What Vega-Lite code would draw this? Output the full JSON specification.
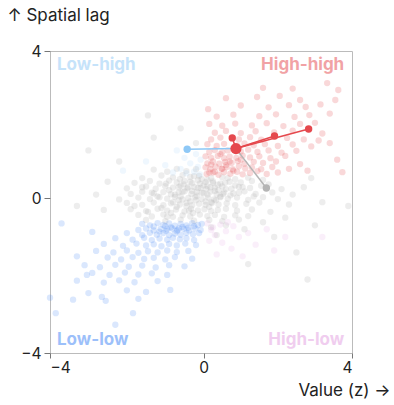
{
  "$schema": "https://vega.github.io/schema/vega-lite/v6.json",
  "width": 302,
  "height": 302,
  "autosize": {"type": "none"},
  "padding": {"left": 50, "top": 51, "right": 42, "bottom": 52},
  "config": {
    "font": "Inter",
    "view": {"stroke": "#bbbbbb", "strokeWidth": 1},
    "axis": {"labelFont": "Inter", "titleFont": "Inter", "labelFontSize": 15.5, "titleFontSize": 17, "titleFontWeight": "normal", "labelColor": "#222222", "titleColor": "#222222", "tickColor": "#777777", "domain": false, "grid": false}
  },
  "datasets": {
    "pts": [
      {"x":-1.3,"y":0.78,"c":"ns"},{"x":-0.95,"y":0.72,"c":"ns"},{"x":-0.7,"y":0.8,"c":"ns"},{"x":-0.45,"y":0.74,"c":"ns"},{"x":-0.2,"y":0.79,"c":"ns"},
      {"x":-1.6,"y":0.55,"c":"ns"},{"x":-1.1,"y":0.62,"c":"ns"},{"x":-0.8,"y":0.57,"c":"ns"},{"x":-0.55,"y":0.63,"c":"ns"},{"x":-0.35,"y":0.58,"c":"ns"},{"x":-0.12,"y":0.61,"c":"ns"},{"x":0.2,"y":0.55,"c":"ns"},{"x":0.5,"y":0.57,"c":"ns"},{"x":0.85,"y":0.52,"c":"ns"},{"x":1.2,"y":0.56,"c":"ns"},{"x":1.6,"y":0.5,"c":"ns"},
      {"x":-1.8,"y":0.42,"c":"ns"},{"x":-1.4,"y":0.47,"c":"ns"},{"x":-1.15,"y":0.4,"c":"ns"},{"x":-0.9,"y":0.48,"c":"ns"},{"x":-0.7,"y":0.43,"c":"ns"},{"x":-0.5,"y":0.47,"c":"ns"},{"x":-0.3,"y":0.41,"c":"ns"},{"x":-0.15,"y":0.49,"c":"ns"},{"x":0.05,"y":0.44,"c":"ns"},{"x":0.25,"y":0.46,"c":"ns"},{"x":0.45,"y":0.4,"c":"ns"},{"x":0.7,"y":0.45,"c":"ns"},{"x":1.0,"y":0.43,"c":"ns"},{"x":1.3,"y":0.47,"c":"ns"},{"x":1.75,"y":0.38,"c":"ns"},
      {"x":-2.0,"y":0.27,"c":"ns"},{"x":-1.5,"y":0.32,"c":"ns"},{"x":-1.25,"y":0.26,"c":"ns"},{"x":-1.0,"y":0.33,"c":"ns"},{"x":-0.8,"y":0.29,"c":"ns"},{"x":-0.6,"y":0.34,"c":"ns"},{"x":-0.42,"y":0.27,"c":"ns"},{"x":-0.25,"y":0.31,"c":"ns"},{"x":-0.08,"y":0.28,"c":"ns"},{"x":0.1,"y":0.33,"c":"ns"},{"x":0.3,"y":0.29,"c":"ns"},{"x":0.5,"y":0.32,"c":"ns"},{"x":0.75,"y":0.26,"c":"ns"},{"x":0.95,"y":0.31,"c":"ns"},{"x":1.25,"y":0.28,"c":"ns"},{"x":1.55,"y":0.34,"c":"ns"},{"x":2.1,"y":0.25,"c":"ns"},
      {"x":-1.9,"y":0.12,"c":"ns"},{"x":-1.6,"y":0.18,"c":"ns"},{"x":-1.3,"y":0.13,"c":"ns"},{"x":-1.05,"y":0.17,"c":"ns"},{"x":-0.85,"y":0.11,"c":"ns"},{"x":-0.65,"y":0.16,"c":"ns"},{"x":-0.5,"y":0.19,"c":"ns"},{"x":-0.32,"y":0.12,"c":"ns"},{"x":-0.18,"y":0.17,"c":"ns"},{"x":0.0,"y":0.14,"c":"ns"},{"x":0.18,"y":0.18,"c":"ns"},{"x":0.35,"y":0.11,"c":"ns"},{"x":0.55,"y":0.16,"c":"ns"},{"x":0.8,"y":0.13,"c":"ns"},{"x":1.1,"y":0.19,"c":"ns"},{"x":1.4,"y":0.12,"c":"ns"},{"x":1.85,"y":0.16,"c":"ns"},{"x":2.4,"y":0.1,"c":"ns"},
      {"x":-2.2,"y":-0.03,"c":"ns"},{"x":-1.7,"y":0.02,"c":"ns"},{"x":-1.4,"y":-0.02,"c":"ns"},{"x":-1.15,"y":0.03,"c":"ns"},{"x":-0.95,"y":-0.01,"c":"ns"},{"x":-0.75,"y":0.04,"c":"ns"},{"x":-0.55,"y":-0.03,"c":"ns"},{"x":-0.4,"y":0.01,"c":"ns"},{"x":-0.22,"y":0.03,"c":"ns"},{"x":-0.05,"y":-0.02,"c":"ns"},{"x":0.12,"y":0.02,"c":"ns"},{"x":0.28,"y":-0.03,"c":"ns"},{"x":0.45,"y":0.03,"c":"ns"},{"x":0.65,"y":-0.01,"c":"ns"},{"x":0.9,"y":0.02,"c":"ns"},{"x":1.2,"y":-0.04,"c":"ns"},{"x":1.6,"y":0.03,"c":"ns"},{"x":2.0,"y":-0.02,"c":"ns"},
      {"x":-2.0,"y":-0.12,"c":"ns"},{"x":-1.6,"y":-0.17,"c":"ns"},{"x":-1.3,"y":-0.11,"c":"ns"},{"x":-1.05,"y":-0.18,"c":"ns"},{"x":-0.85,"y":-0.13,"c":"ns"},{"x":-0.62,"y":-0.16,"c":"ns"},{"x":-0.45,"y":-0.12,"c":"ns"},{"x":-0.3,"y":-0.18,"c":"ns"},{"x":-0.12,"y":-0.14,"c":"ns"},{"x":0.05,"y":-0.17,"c":"ns"},{"x":0.22,"y":-0.12,"c":"ns"},{"x":0.4,"y":-0.16,"c":"ns"},{"x":0.62,"y":-0.13,"c":"ns"},{"x":0.85,"y":-0.18,"c":"ns"},{"x":1.15,"y":-0.14,"c":"ns"},{"x":1.5,"y":-0.11,"c":"ns"},{"x":2.3,"y":-0.16,"c":"ns"},
      {"x":-1.9,"y":-0.28,"c":"ns"},{"x":-1.5,"y":-0.33,"c":"ns"},{"x":-1.2,"y":-0.27,"c":"ns"},{"x":-0.95,"y":-0.32,"c":"ns"},{"x":-0.72,"y":-0.29,"c":"ns"},{"x":-0.5,"y":-0.34,"c":"ns"},{"x":-0.33,"y":-0.27,"c":"ns"},{"x":-0.15,"y":-0.31,"c":"ns"},{"x":0.02,"y":-0.28,"c":"ns"},{"x":0.2,"y":-0.33,"c":"ns"},{"x":0.38,"y":-0.3,"c":"ns"},{"x":0.6,"y":-0.27,"c":"ns"},{"x":0.9,"y":-0.32,"c":"ns"},{"x":1.3,"y":-0.29,"c":"ns"},{"x":1.8,"y":-0.35,"c":"ns"},
      {"x":-1.7,"y":-0.43,"c":"ns"},{"x":-1.35,"y":-0.47,"c":"ns"},{"x":-1.05,"y":-0.42,"c":"ns"},{"x":-0.8,"y":-0.48,"c":"ns"},{"x":-0.55,"y":-0.44,"c":"ns"},{"x":-0.35,"y":-0.47,"c":"ns"},{"x":-0.1,"y":-0.42,"c":"ns"},{"x":0.1,"y":-0.46,"c":"ns"},{"x":0.3,"y":-0.43,"c":"ns"},{"x":0.55,"y":-0.48,"c":"ns"},{"x":0.85,"y":-0.44,"c":"ns"},{"x":1.2,"y":-0.46,"c":"ns"},
      {"x":-1.5,"y":-0.56,"c":"ns"},{"x":-1.0,"y":-0.59,"c":"ns"},{"x":-0.6,"y":-0.55,"c":"ns"},{"x":-0.25,"y":-0.58,"c":"ns"},{"x":0.15,"y":-0.56,"c":"ns"},{"x":0.5,"y":-0.59,"c":"ns"},{"x":0.95,"y":-0.55,"c":"ns"},
      {"x":-0.6,"y":0.05,"c":"ns"},{"x":-0.3,"y":0.2,"c":"ns"},{"x":0.1,"y":0.1,"c":"ns"},{"x":-0.2,"y":-0.05,"c":"ns"},{"x":0.3,"y":0.2,"c":"ns"},{"x":-0.45,"y":-0.2,"c":"ns"},{"x":0.0,"y":0.35,"c":"ns"},{"x":-0.8,"y":-0.1,"c":"ns"},{"x":0.6,"y":0.25,"c":"ns"},{"x":-0.1,"y":0.4,"c":"ns"},{"x":0.2,"y":-0.1,"c":"ns"},{"x":-0.65,"y":0.3,"c":"ns"},{"x":0.45,"y":0.05,"c":"ns"},{"x":-0.35,"y":0.45,"c":"ns"},{"x":-1.1,"y":-0.25,"c":"ns"},{"x":0.85,"y":0.35,"c":"ns"},
      {"x":-0.9,"y":0.22,"c":"ns"},{"x":-0.52,"y":0.38,"c":"ns"},{"x":-0.18,"y":0.07,"c":"ns"},{"x":0.07,"y":0.25,"c":"ns"},{"x":0.38,"y":0.37,"c":"ns"},{"x":-0.7,"y":-0.22,"c":"ns"},{"x":-0.35,"y":-0.08,"c":"ns"},{"x":0.15,"y":-0.22,"c":"ns"},{"x":0.52,"y":0.12,"c":"ns"},{"x":-1.2,"y":0.05,"c":"ns"},{"x":-0.05,"y":0.52,"c":"ns"},{"x":0.72,"y":0.08,"c":"ns"},{"x":-0.62,"y":0.52,"c":"ns"},{"x":-0.28,"y":-0.38,"c":"ns"},{"x":0.33,"y":-0.05,"c":"ns"},{"x":-1.45,"y":-0.35,"c":"ns"},{"x":-0.98,"y":0.4,"c":"ns"},{"x":0.95,"y":0.15,"c":"ns"},{"x":-0.15,"y":0.28,"c":"ns"},{"x":0.25,"y":0.42,"c":"ns"},
      {"x":-0.75,"y":0.1,"c":"ns"},{"x":-0.42,"y":0.3,"c":"ns"},{"x":0.05,"y":-0.08,"c":"ns"},{"x":-0.85,"y":-0.38,"c":"ns"},{"x":0.58,"y":0.42,"c":"ns"},{"x":-1.6,"y":0.3,"c":"ns"},{"x":1.05,"y":0.3,"c":"ns"},{"x":-0.25,"y":0.6,"c":"ns"},{"x":-0.55,"y":0.18,"c":"ns"},{"x":0.4,"y":0.22,"c":"ns"},{"x":-1.35,"y":0.15,"c":"ns"},{"x":-0.05,"y":0.15,"c":"ns"},{"x":0.18,"y":0.3,"c":"ns"},{"x":-0.38,"y":-0.32,"c":"ns"},{"x":0.65,"y":0.55,"c":"ns"},{"x":-1.8,"y":-0.2,"c":"ns"},{"x":1.35,"y":0.05,"c":"ns"},{"x":-0.95,"y":-0.48,"c":"ns"},{"x":0.1,"y":0.5,"c":"ns"},{"x":-0.65,"y":-0.05,"c":"ns"},
      {"x":0.2,"y":-0.75,"c":"ns"},{"x":0.6,"y":-0.7,"c":"ns"},{"x":1.1,"y":-0.8,"c":"ns"},{"x":1.6,"y":-0.62,"c":"ns"},{"x":2.2,"y":-0.5,"c":"ns"},{"x":0.35,"y":-0.95,"c":"ns"},{"x":1.9,"y":-1.0,"c":"ns"},
      {"x":-3.3,"y":-0.2,"c":"ns"},{"x":-2.8,"y":0.1,"c":"ns"},{"x":-2.5,"y":0.45,"c":"ns"},{"x":-1.45,"y":2.25,"c":"ns"},{"x":-1.3,"y":1.65,"c":"ns"},{"x":-2.2,"y":1.0,"c":"ns"},{"x":-0.6,"y":1.9,"c":"ns"},{"x":3.9,"y":-0.2,"c":"ns"},{"x":3.2,"y":-0.1,"c":"ns"},{"x":2.7,"y":0.3,"c":"ns"},{"x":3.0,"y":-0.7,"c":"ns"},{"x":2.5,"y":-1.4,"c":"ns"},{"x":-0.2,"y":1.5,"c":"ns"},{"x":2.8,"y":-2.1,"c":"ns"},{"x":1.2,"y":-1.7,"c":"ns"},{"x":-3.0,"y":1.3,"c":"ns"},{"x":-2.6,"y":-0.3,"c":"ns"},{"x":2.9,"y":0.55,"c":"ns"},

      {"x":0.08,"y":0.66,"c":"hh"},{"x":0.25,"y":0.7,"c":"hh"},{"x":0.4,"y":0.64,"c":"hh"},{"x":0.55,"y":0.71,"c":"hh"},{"x":0.72,"y":0.67,"c":"hh"},{"x":0.9,"y":0.72,"c":"hh"},{"x":1.05,"y":0.65,"c":"hh"},{"x":1.25,"y":0.69,"c":"hh"},{"x":1.45,"y":0.74,"c":"hh"},{"x":1.7,"y":0.66,"c":"hh"},{"x":2.0,"y":0.7,"c":"hh"},
      {"x":0.05,"y":0.84,"c":"hh"},{"x":0.18,"y":0.79,"c":"hh"},{"x":0.32,"y":0.86,"c":"hh"},{"x":0.48,"y":0.8,"c":"hh"},{"x":0.62,"y":0.85,"c":"hh"},{"x":0.78,"y":0.79,"c":"hh"},{"x":0.95,"y":0.87,"c":"hh"},{"x":1.12,"y":0.81,"c":"hh"},{"x":1.3,"y":0.84,"c":"hh"},{"x":1.55,"y":0.79,"c":"hh"},{"x":1.85,"y":0.85,"c":"hh"},{"x":2.3,"y":0.8,"c":"hh"},
      {"x":0.1,"y":0.95,"c":"hh"},{"x":0.25,"y":1.0,"c":"hh"},{"x":0.42,"y":0.94,"c":"hh"},{"x":0.58,"y":0.99,"c":"hh"},{"x":0.75,"y":0.96,"c":"hh"},{"x":0.92,"y":1.01,"c":"hh"},{"x":1.1,"y":0.94,"c":"hh"},{"x":1.35,"y":0.99,"c":"hh"},{"x":1.6,"y":0.96,"c":"hh"},{"x":1.95,"y":1.0,"c":"hh"},{"x":2.6,"y":0.93,"c":"hh"},
      {"x":0.05,"y":1.14,"c":"hh"},{"x":0.2,"y":1.1,"c":"hh"},{"x":0.38,"y":1.15,"c":"hh"},{"x":0.55,"y":1.09,"c":"hh"},{"x":0.7,"y":1.13,"c":"hh"},{"x":0.88,"y":1.1,"c":"hh"},{"x":1.05,"y":1.16,"c":"hh"},{"x":1.25,"y":1.11,"c":"hh"},{"x":1.5,"y":1.14,"c":"hh"},{"x":1.8,"y":1.09,"c":"hh"},{"x":2.2,"y":1.15,"c":"hh"},{"x":3.6,"y":1.05,"c":"hh"},
      {"x":0.15,"y":1.26,"c":"hh"},{"x":0.3,"y":1.31,"c":"hh"},{"x":0.5,"y":1.25,"c":"hh"},{"x":0.65,"y":1.3,"c":"hh"},{"x":1.0,"y":1.27,"c":"hh"},{"x":1.2,"y":1.32,"c":"hh"},{"x":1.45,"y":1.26,"c":"hh"},{"x":1.75,"y":1.3,"c":"hh"},{"x":2.1,"y":1.24,"c":"hh"},{"x":2.5,"y":1.29,"c":"hh"},
      {"x":0.1,"y":1.47,"c":"hh"},{"x":0.35,"y":1.42,"c":"hh"},{"x":0.55,"y":1.48,"c":"hh"},{"x":0.9,"y":1.43,"c":"hh"},{"x":1.1,"y":1.49,"c":"hh"},{"x":1.35,"y":1.44,"c":"hh"},{"x":1.65,"y":1.47,"c":"hh"},{"x":2.0,"y":1.42,"c":"hh"},{"x":2.4,"y":1.46,"c":"hh"},{"x":2.9,"y":1.41,"c":"hh"},
      {"x":0.2,"y":1.6,"c":"hh"},{"x":0.45,"y":1.65,"c":"hh"},{"x":0.95,"y":1.6,"c":"hh"},{"x":1.25,"y":1.66,"c":"hh"},{"x":1.55,"y":1.59,"c":"hh"},{"x":2.25,"y":1.64,"c":"hh"},{"x":2.7,"y":1.6,"c":"hh"},{"x":3.1,"y":1.57,"c":"hh"},
      {"x":0.3,"y":1.78,"c":"hh"},{"x":0.6,"y":1.83,"c":"hh"},{"x":1.0,"y":1.77,"c":"hh"},{"x":1.4,"y":1.82,"c":"hh"},{"x":1.9,"y":1.79,"c":"hh"},{"x":2.4,"y":1.84,"c":"hh"},{"x":3.2,"y":1.76,"c":"hh"},
      {"x":0.15,"y":2.02,"c":"hh"},{"x":0.5,"y":1.97,"c":"hh"},{"x":0.85,"y":2.03,"c":"hh"},{"x":1.3,"y":1.98,"c":"hh"},{"x":1.7,"y":2.04,"c":"hh"},{"x":2.15,"y":1.96,"c":"hh"},{"x":2.6,"y":2.02,"c":"hh"},{"x":3.0,"y":2.05,"c":"hh"},
      {"x":0.35,"y":2.22,"c":"hh"},{"x":0.8,"y":2.27,"c":"hh"},{"x":1.5,"y":2.23,"c":"hh"},{"x":1.95,"y":2.28,"c":"hh"},{"x":2.45,"y":2.21,"c":"hh"},{"x":2.85,"y":2.26,"c":"hh"},{"x":3.4,"y":2.3,"c":"hh"},
      {"x":0.12,"y":2.42,"c":"hh"},{"x":1.0,"y":2.52,"c":"hh"},{"x":1.75,"y":2.47,"c":"hh"},{"x":2.3,"y":2.53,"c":"hh"},{"x":2.75,"y":2.48,"c":"hh"},{"x":3.15,"y":2.55,"c":"hh"},
      {"x":0.6,"y":2.72,"c":"hh"},{"x":1.44,"y":2.75,"c":"hh"},{"x":2.05,"y":2.78,"c":"hh"},{"x":2.6,"y":2.67,"c":"hh"},{"x":3.55,"y":2.67,"c":"hh"},
      {"x":1.6,"y":3.0,"c":"hh"},{"x":2.4,"y":2.98,"c":"hh"},{"x":3.63,"y":2.94,"c":"hh"},{"x":3.33,"y":3.13,"c":"hh"},
      {"x":3.74,"y":0.71,"c":"hh"},{"x":3.4,"y":1.5,"c":"hh"},{"x":2.8,"y":0.75,"c":"hh"},{"x":0.3,"y":0.72,"c":"hh"},{"x":0.6,"y":0.9,"c":"hh"},{"x":0.2,"y":0.92,"c":"hh"},{"x":0.45,"y":1.2,"c":"hh"},{"x":0.8,"y":0.75,"c":"hh"},{"x":1.0,"y":1.05,"c":"hh"},{"x":0.15,"y":0.7,"c":"hh"},{"x":0.5,"y":0.8,"c":"hh"},{"x":0.7,"y":1.0,"c":"hh"},

      {"x":-1.6,"y":-0.66,"c":"ll"},{"x":-1.4,"y":-0.7,"c":"ll"},{"x":-1.2,"y":-0.64,"c":"ll"},{"x":-1.05,"y":-0.69,"c":"ll"},{"x":-0.9,"y":-0.65,"c":"ll"},{"x":-0.75,"y":-0.71,"c":"ll"},{"x":-0.6,"y":-0.66,"c":"ll"},{"x":-0.45,"y":-0.7,"c":"ll"},{"x":-0.3,"y":-0.64,"c":"ll"},{"x":-0.15,"y":-0.69,"c":"ll"},{"x":-0.05,"y":-0.66,"c":"ll"},
      {"x":-1.7,"y":-0.82,"c":"ll"},{"x":-1.5,"y":-0.78,"c":"ll"},{"x":-1.3,"y":-0.83,"c":"ll"},{"x":-1.12,"y":-0.79,"c":"ll"},{"x":-0.98,"y":-0.84,"c":"ll"},{"x":-0.82,"y":-0.78,"c":"ll"},{"x":-0.68,"y":-0.82,"c":"ll"},{"x":-0.52,"y":-0.79,"c":"ll"},{"x":-0.38,"y":-0.83,"c":"ll"},{"x":-0.22,"y":-0.78,"c":"ll"},{"x":-0.08,"y":-0.82,"c":"ll"},
      {"x":-2.0,"y":-0.9,"c":"ll"},{"x":-1.6,"y":-0.95,"c":"ll"},{"x":-1.4,"y":-0.89,"c":"ll"},{"x":-1.22,"y":-0.94,"c":"ll"},{"x":-1.05,"y":-0.9,"c":"ll"},{"x":-0.9,"y":-0.95,"c":"ll"},{"x":-0.75,"y":-0.91,"c":"ll"},{"x":-0.6,"y":-0.94,"c":"ll"},{"x":-0.45,"y":-0.89,"c":"ll"},{"x":-0.28,"y":-0.93,"c":"ll"},{"x":-0.12,"y":-0.9,"c":"ll"},
      {"x":-2.3,"y":-1.03,"c":"ll"},{"x":-1.85,"y":-1.07,"c":"ll"},{"x":-1.55,"y":-1.02,"c":"ll"},{"x":-1.35,"y":-1.08,"c":"ll"},{"x":-1.15,"y":-1.04,"c":"ll"},{"x":-0.95,"y":-1.07,"c":"ll"},{"x":-0.8,"y":-1.02,"c":"ll"},{"x":-0.62,"y":-1.06,"c":"ll"},{"x":-0.45,"y":-1.03,"c":"ll"},{"x":-0.25,"y":-1.08,"c":"ll"},
      {"x":-2.6,"y":-1.18,"c":"ll"},{"x":-2.1,"y":-1.23,"c":"ll"},{"x":-1.75,"y":-1.17,"c":"ll"},{"x":-1.5,"y":-1.22,"c":"ll"},{"x":-1.3,"y":-1.19,"c":"ll"},{"x":-1.1,"y":-1.24,"c":"ll"},{"x":-0.9,"y":-1.18,"c":"ll"},{"x":-0.7,"y":-1.22,"c":"ll"},{"x":-0.48,"y":-1.17,"c":"ll"},{"x":-0.2,"y":-1.21,"c":"ll"},
      {"x":-2.8,"y":-1.36,"c":"ll"},{"x":-2.35,"y":-1.4,"c":"ll"},{"x":-2.0,"y":-1.35,"c":"ll"},{"x":-1.7,"y":-1.41,"c":"ll"},{"x":-1.45,"y":-1.37,"c":"ll"},{"x":-1.2,"y":-1.4,"c":"ll"},{"x":-0.95,"y":-1.35,"c":"ll"},{"x":-0.7,"y":-1.39,"c":"ll"},{"x":-0.4,"y":-1.36,"c":"ll"},
      {"x":-2.5,"y":-1.53,"c":"ll"},{"x":-2.15,"y":-1.58,"c":"ll"},{"x":-1.85,"y":-1.52,"c":"ll"},{"x":-1.55,"y":-1.57,"c":"ll"},{"x":-1.3,"y":-1.54,"c":"ll"},{"x":-1.0,"y":-1.58,"c":"ll"},{"x":-0.75,"y":-1.52,"c":"ll"},{"x":-0.3,"y":-1.56,"c":"ll"},
      {"x":-3.1,"y":-1.73,"c":"ll"},{"x":-2.7,"y":-1.78,"c":"ll"},{"x":-2.3,"y":-1.72,"c":"ll"},{"x":-1.95,"y":-1.77,"c":"ll"},{"x":-1.6,"y":-1.74,"c":"ll"},{"x":-1.25,"y":-1.79,"c":"ll"},{"x":-0.9,"y":-1.73,"c":"ll"},{"x":-0.5,"y":-1.76,"c":"ll"},
      {"x":-2.9,"y":-1.93,"c":"ll"},{"x":-2.45,"y":-1.98,"c":"ll"},{"x":-2.05,"y":-1.92,"c":"ll"},{"x":-1.7,"y":-1.97,"c":"ll"},{"x":-1.35,"y":-1.94,"c":"ll"},{"x":-0.95,"y":-1.98,"c":"ll"},
      {"x":-3.3,"y":-2.13,"c":"ll"},{"x":-2.6,"y":-2.18,"c":"ll"},{"x":-2.2,"y":-2.12,"c":"ll"},{"x":-1.8,"y":-2.17,"c":"ll"},{"x":-1.2,"y":-2.14,"c":"ll"},
      {"x":-3.0,"y":-2.45,"c":"ll"},{"x":-2.65,"y":-2.55,"c":"ll"},{"x":-2.0,"y":-2.38,"c":"ll"},{"x":-1.5,"y":-2.42,"c":"ll"},{"x":-0.87,"y":-2.37,"c":"ll"},
      {"x":-4.0,"y":-2.57,"c":"ll"},{"x":-3.4,"y":-2.62,"c":"ll"},{"x":-2.55,"y":-2.65,"c":"ll"},{"x":-1.7,"y":-2.6,"c":"ll"},
      {"x":-3.85,"y":-2.97,"c":"ll"},{"x":-1.84,"y":-2.97,"c":"ll"},{"x":-2.3,"y":-3.27,"c":"ll"},{"x":-3.7,"y":-0.65,"c":"ll"},{"x":-2.9,"y":-0.87,"c":"ll"},{"x":-3.3,"y":-1.5,"c":"ll"},{"x":-3.04,"y":-1.98,"c":"ll"},
      {"x":-1.0,"y":-0.72,"c":"ll"},{"x":-0.85,"y":-0.75,"c":"ll"},{"x":-0.7,"y":-0.85,"c":"ll"},{"x":-0.55,"y":-0.74,"c":"ll"},{"x":-1.15,"y":-0.86,"c":"ll"},{"x":-0.4,"y":-0.76,"c":"ll"},{"x":-0.95,"y":-0.8,"c":"ll"},{"x":-0.65,"y":-0.78,"c":"ll"},{"x":-1.3,"y":-0.73,"c":"ll"},{"x":-0.25,"y":-0.72,"c":"ll"},

      {"x":0.1,"y":-0.65,"c":"hl"},{"x":0.25,"y":-0.75,"c":"hl"},{"x":0.45,"y":-0.68,"c":"hl"},{"x":0.6,"y":-0.85,"c":"hl"},{"x":0.3,"y":-0.95,"c":"hl"},{"x":0.8,"y":-0.72,"c":"hl"},{"x":0.95,"y":-1.0,"c":"hl"},{"x":0.15,"y":-1.1,"c":"hl"},{"x":0.5,"y":-1.15,"c":"hl"},{"x":1.2,"y":-0.9,"c":"hl"},{"x":1.4,"y":-1.2,"c":"hl"},{"x":0.75,"y":-1.3,"c":"hl"},{"x":1.7,"y":-0.8,"c":"hl"},{"x":0.35,"y":-1.45,"c":"hl"},{"x":1.05,"y":-1.5,"c":"hl"},{"x":2.2,"y":-1.0,"c":"hl"},{"x":0.2,"y":-0.82,"c":"hl"},{"x":0.65,"y":-0.62,"c":"hl"},{"x":1.9,"y":-1.35,"c":"hl"},{"x":3.2,"y":-1.0,"c":"hl"},

      {"x":-0.1,"y":0.65,"c":"lh"},{"x":-0.25,"y":0.72,"c":"lh"},{"x":-0.45,"y":0.68,"c":"lh"},{"x":-0.15,"y":0.85,"c":"lh"},{"x":-0.35,"y":0.95,"c":"lh"},{"x":-0.6,"y":0.8,"c":"lh"},{"x":-0.08,"y":1.05,"c":"lh"},{"x":-0.5,"y":1.1,"c":"lh"},{"x":-0.8,"y":0.7,"c":"lh"},{"x":-0.2,"y":1.2,"c":"lh"},{"x":-1.0,"y":0.9,"c":"lh"},{"x":-0.7,"y":1.3,"c":"lh"},{"x":-1.5,"y":1.0,"c":"lh"},{"x":-2.1,"y":0.75,"c":"lh"}
    ],
    "links": [
      {"x":0.87,"y":1.35,"x2":0.77,"y2":1.64,"c":"hh"},
      {"x":0.87,"y":1.35,"x2":1.91,"y2":1.69,"c":"hh"},
      {"x":0.87,"y":1.35,"x2":2.83,"y2":1.88,"c":"hh"},
      {"x":0.87,"y":1.35,"x2":1.69,"y2":0.28,"c":"ns"},
      {"x":0.87,"y":1.35,"x2":-0.43,"y2":1.33,"c":"lh"}
    ],
    "nbrs": [
      {"x":0.77,"y":1.64,"c":"hh"},
      {"x":1.91,"y":1.69,"c":"hh"},
      {"x":2.83,"y":1.88,"c":"hh"},
      {"x":1.69,"y":0.28,"c":"ns"},
      {"x":-0.43,"y":1.33,"c":"lh"}
    ],
    "focal": [
      {"x":0.87,"y":1.35,"c":"hh"}
    ],
    "labelsLeft": [
      {"label":"Low-high","x":-3.82,"y":3.62,"c":"lh"},
      {"label":"Low-low","x":-3.82,"y":-3.66,"c":"ll"}
    ],
    "labelsRight": [
      {"label":"High-high","x":3.79,"y":3.62,"c":"hh"},
      {"label":"High-low","x":3.79,"y":-3.66,"c":"hl"}
    ]
  },
  "layer": [
    {
      "mark": {"type": "rule", "color": "#dddddd", "strokeWidth": 1},
      "encoding": {"x": {"datum": 0, "type": "quantitative", "scale": {"domain": [-4, 0, 4], "range": [0, 153.7, 302], "nice": false, "zero": false}}}
    },
    {
      "mark": {"type": "rule", "color": "#dddddd", "strokeWidth": 1},
      "encoding": {"y": {"datum": 0, "type": "quantitative", "scale": {"domain": [-4, 0, 4], "range": [302, 147.3, 0], "nice": false, "zero": false}}}
    },
    {
      "data": {"name": "pts"},
      "mark": {"type": "circle", "size": 40},
      "encoding": {
        "x": {"field": "x", "type": "quantitative", "scale": {"domain": [-4, 0, 4], "range": [0, 153.7, 302], "nice": false, "zero": false},
              "axis": {"values": [-4, 0, 4], "title": "Value (z) →", "tickSize": 5, "labelPadding": 2, "titleAnchor": "end", "titleAlign": "right", "titleX": 340, "titleY": 42, "titleBaseline": "alphabetic"}},
        "y": {"field": "y", "type": "quantitative", "scale": {"domain": [-4, 0, 4], "range": [302, 147.3, 0], "nice": false, "zero": false},
              "axis": {"values": [-4, 0, 4], "title": "↑ Spatial lag", "tickSize": 6, "labelPadding": 3, "titleAngle": 0, "titleAlign": "left", "titleAnchor": "start", "titleX": -43, "titleY": -31, "titleBaseline": "alphabetic"}},
        "color": {"field": "c", "type": "nominal", "legend": null,
                  "scale": {"domain": ["ns", "hh", "ll", "hl", "lh"], "range": ["#b5b5b5", "#e5484d", "#3b82f6", "#e29de0", "#8ec8f6"]}},
        "opacity": {"field": "c", "type": "nominal", "legend": null,
                    "scale": {"domain": ["ns", "hh", "ll", "hl", "lh"], "range": [0.24, 0.14, 0.16, 0.16, 0.16]}}
      }
    },
    {
      "data": {"name": "links"},
      "mark": {"type": "rule", "strokeWidth": 1.5},
      "encoding": {
        "x": {"field": "x", "type": "quantitative"},
        "y": {"field": "y", "type": "quantitative"},
        "x2": {"field": "x2"},
        "y2": {"field": "y2"},
        "color": {"field": "c", "type": "nominal", "legend": null}
      }
    },
    {
      "data": {"name": "nbrs"},
      "mark": {"type": "circle", "size": 55, "opacity": 1},
      "encoding": {
        "x": {"field": "x", "type": "quantitative"},
        "y": {"field": "y", "type": "quantitative"},
        "color": {"field": "c", "type": "nominal", "legend": null}
      }
    },
    {
      "data": {"name": "focal"},
      "mark": {"type": "circle", "size": 125, "opacity": 1},
      "encoding": {
        "x": {"field": "x", "type": "quantitative"},
        "y": {"field": "y", "type": "quantitative"},
        "color": {"field": "c", "type": "nominal", "legend": null}
      }
    },
    {
      "data": {"name": "labelsLeft"},
      "mark": {"type": "text", "align": "left", "baseline": "middle", "fontWeight": "bold", "fontSize": 17, "opacity": 0.5},
      "encoding": {
        "x": {"field": "x", "type": "quantitative"},
        "y": {"field": "y", "type": "quantitative"},
        "text": {"field": "label"},
        "color": {"field": "c", "type": "nominal", "legend": null}
      }
    },
    {
      "data": {"name": "labelsRight"},
      "mark": {"type": "text", "align": "right", "baseline": "middle", "fontWeight": "bold", "fontSize": 17, "opacity": 0.5},
      "encoding": {
        "x": {"field": "x", "type": "quantitative"},
        "y": {"field": "y", "type": "quantitative"},
        "text": {"field": "label"},
        "color": {"field": "c", "type": "nominal", "legend": null}
      }
    }
  ]
}
